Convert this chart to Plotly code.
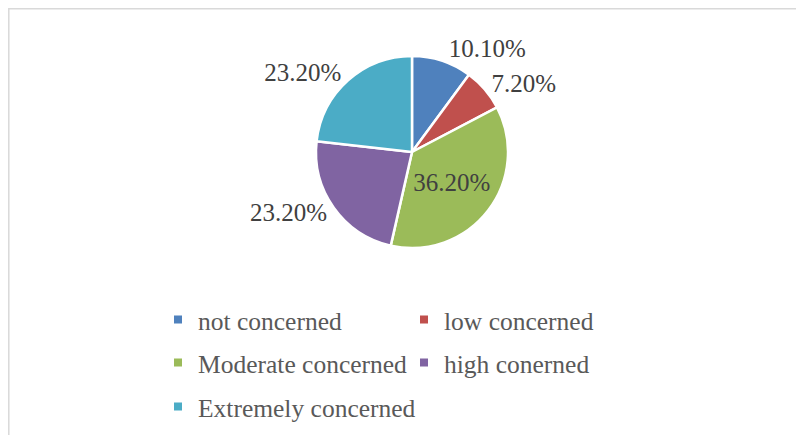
import plotly.graph_objects as go

categories = ["not concerned", "low concerned", "Moderate concerned", "high conerned", "Extremely concerned"]
values = [10.1, 7.2, 36.2, 23.2, 23.2]
label_text = ["10.10%", "7.20%", "36.20%", "23.20%", "23.20%"]
colors = ["#4F81BD", "#C0504D", "#9BBB59", "#8064A2", "#4BACC6"]
positions = ["outside", "outside", "inside", "outside", "outside"]
legend_rows = ["legend", "legend", "legend2", "legend2", "legend3"]

W, H = 804, 435
cx, cy, r = 404, 144, 96
FONT = "Liberation Serif"

fig = go.Figure()
fig.add_trace(go.Pie(
    labels=categories, values=values, text=label_text,
    textinfo="text", textposition=positions,
    sort=False, direction="clockwise", rotation=0,
    marker=dict(colors=colors, line=dict(color="white", width=2.5)),
    textfont=dict(family=FONT, size=25, color="#404040"),
    insidetextorientation="horizontal",
    domain=dict(x=[(cx - 2 * r) / W, (cx + 2 * r) / W], y=[1 - (cy + r) / H, 1 - (cy - r) / H]),
    hoverinfo="label+percent", showlegend=False,
))

# legend entries (one per category), arranged in rows of two
for name, col, lg in zip(categories, colors, legend_rows):
    fig.add_trace(go.Scatter(x=[None], y=[None], mode="markers", name=name, legend=lg,
                             marker=dict(symbol="square", size=8, color=col), hoverinfo="skip"))

row_y = [312, 355, 399]
legend_common = dict(orientation="h", x=150 / W, xanchor="left", yanchor="middle",
                     entrywidthmode="pixels", itemsizing="trace",
                     font=dict(family=FONT, size=25.5, color="#595959"), bgcolor="rgba(0,0,0,0)")

fig.update_layout(
    width=W, height=H,
    margin=dict(l=0, r=0, t=0, b=0),
    paper_bgcolor="white", plot_bgcolor="white",
    xaxis=dict(visible=False), yaxis=dict(visible=False),
    legend=dict(y=1 - row_y[0] / H, entrywidth=201, **legend_common),
    legend2=dict(y=1 - row_y[1] / H, entrywidth=201, **legend_common),
    legend3=dict(y=1 - row_y[2] / H, entrywidth=320, **legend_common),
    shapes=[dict(type="rect", xref="paper", yref="paper", x0=0.001, x1=1.05, y0=-0.05, y1=0.998,
                 line=dict(color="#D9D9D9", width=1.5), fillcolor="rgba(0,0,0,0)")],
)
fig.write_html("out.html")
